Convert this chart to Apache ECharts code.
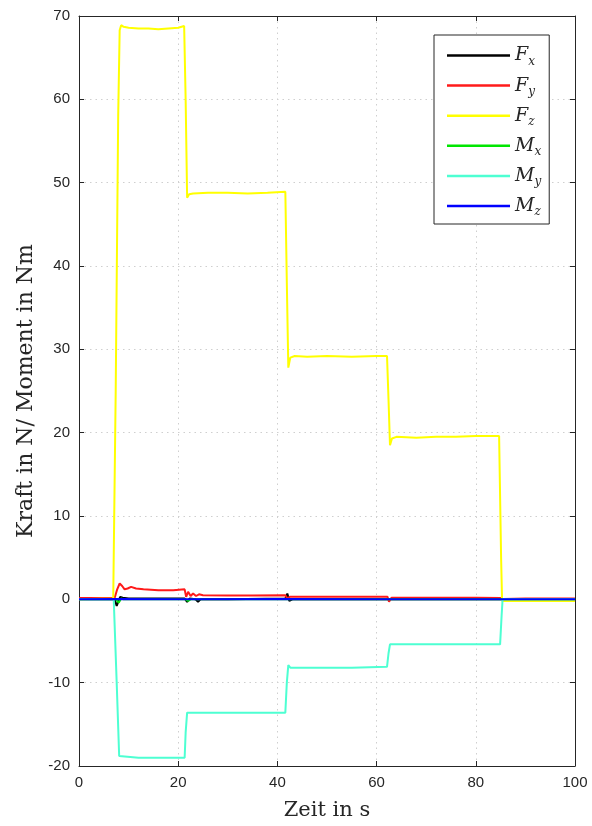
<!DOCTYPE html>
<html>
<head>
<meta charset="utf-8">
<script src="https://cdn.jsdelivr.net/npm/echarts@6/dist/echarts.min.js"></script>
<style>
html,body{margin:0;padding:0;background:#fff;}
#chart{width:592px;height:826px;}
</style>
</head>
<body>
<div id="chart"></div>
<script>
// ---- data (time in s, value in N / Nm) ----
var seriesNames = ['Fx', 'Fy', 'Fz', 'Mx', 'My', 'Mz'];
var xTicks = [0, 20, 40, 60, 80, 100];
var yTicks = [-20, -10, 0, 10, 20, 30, 40, 50, 60, 70];

var fxT = [0, 7.2, 7.6, 7.9, 8.3, 8.8, 10, 15, 21.3, 21.8, 22.3, 23.5, 24, 24.5, 30, 41.6, 42.0, 42.4, 43, 50, 62.2, 62.6, 63, 85, 100];
var fxV = [0.0, 0.0, -0.8, -0.3, 0.3, 0.2, 0.1, 0.1, 0.1, -0.3, 0.1, 0.0, -0.3, 0.0, 0.0, 0.1, 0.7, -0.2, 0.0, 0.0, 0.0, -0.2, 0.0, 0.0, 0.0];

var fyT = [0, 7.2, 7.7, 8.2, 8.7, 9.2, 9.8, 10.5, 11.5, 13, 16, 19, 21.3, 21.6, 22.0, 22.5, 23.0, 23.6, 24.2, 25, 30, 35, 41.6, 42.0, 42.5, 45, 50, 55, 62.2, 62.5, 63, 70, 80, 85, 85.5, 90, 100];
var fyV = [0.15, 0.2, 1.2, 1.9, 1.6, 1.2, 1.3, 1.5, 1.3, 1.2, 1.1, 1.1, 1.2, 0.3, 0.9, 0.4, 0.7, 0.4, 0.6, 0.5, 0.45, 0.45, 0.5, 0.1, 0.3, 0.3, 0.3, 0.3, 0.3, -0.3, 0.2, 0.2, 0.2, 0.15, 0.05, 0.1, 0.1];

var fzT = [0, 6.9, 7.4, 7.9, 8.2, 8.5, 9, 10, 12, 14, 16, 18, 20, 21.2, 21.5, 21.8, 22.2, 23, 26, 30, 34, 38, 41.6, 41.9, 42.2, 42.6, 43.5, 46, 50, 55, 60, 62.1, 62.4, 62.7, 63.1, 64, 68, 72, 76, 80, 84.7, 85.1, 85.3, 90, 95, 100];
var fzV = [0.0, 0.1, 25, 58, 68.3, 68.9, 68.7, 68.6, 68.5, 68.5, 68.4, 68.5, 68.6, 68.8, 60, 48.2, 48.6, 48.7, 48.8, 48.8, 48.7, 48.8, 48.9, 38, 27.8, 29.0, 29.2, 29.1, 29.2, 29.1, 29.2, 29.2, 24, 18.5, 19.3, 19.5, 19.4, 19.5, 19.5, 19.6, 19.6, 5, -0.2, -0.2, -0.2, -0.2];

var mxT = [0, 7.5, 8, 8.5, 9, 21.5, 22, 22.5, 42, 42.3, 42.7, 100];
var mxV = [0, 0, -0.4, 0.1, 0, 0, -0.2, 0, 0, -0.2, 0, 0];

var myT = [0, 7.0, 7.6, 8.1, 8.5, 12, 16, 21.3, 21.5, 21.8, 25, 30, 35, 41.6, 41.9, 42.2, 42.6, 45, 50, 55, 62.1, 62.4, 62.7, 65, 70, 75, 80, 84.9, 85.2, 85.4, 90, 100];
var myV = [0, 0, -10, -18.8, -19.0, -19.0, -19.0, -19.0, -16, -13.6, -13.6, -13.6, -13.6, -13.6, -10, -7.9, -8.2, -8.2, -8.2, -8.2, -8.1, -6.5, -5.4, -5.4, -5.4, -5.4, -5.4, -5.4, -2, 0, 0, 0];

var mzT = [0, 8, 20, 42, 62, 85, 100];
var mzV = [0, 0.05, 0.0, 0.05, 0.0, 0.0, 0.0];

var colors = ['#000000', '#ff1a1a', '#ffff00', '#00e600', '#4dffd2', '#0000ff'];

function zip(t, v) { var out = []; for (var i = 0; i < t.length; i++) out.push([t[i], v[i]]); return out; }
var allData = [zip(fxT, fxV), zip(fyT, fyV), zip(fzT, fzV), zip(mxT, mxV), zip(myT, myV), zip(mzT, mzV)];

var axisCol = '#262626';
var tickFont = 'Liberation Sans, Arial, sans-serif';
var serif = 'DejaVu Serif, Liberation Serif, serif';
var gridLine = { type: [1.5, 4], color: '#cfcfcf', width: 1 };

function mkX(pos, show) {
  return {
    type: 'value', min: 0, max: 100, interval: 20, position: pos,
    axisLine: { show: true, onZero: false, lineStyle: { color: axisCol, width: 1 } },
    axisTick: { show: true, inside: true, length: 5, lineStyle: { color: axisCol } },
    axisLabel: { show: show, color: axisCol, fontSize: 15, fontFamily: tickFont, margin: 9 },
    splitLine: { show: show, lineStyle: gridLine }
  };
}
function mkY(pos, show) {
  return {
    type: 'value', min: -20, max: 70, interval: 10, position: pos,
    axisLine: { show: true, onZero: false, lineStyle: { color: axisCol, width: 1 } },
    axisTick: { show: true, inside: true, length: 5, lineStyle: { color: axisCol } },
    axisLabel: { show: show, color: axisCol, fontSize: 15, fontFamily: tickFont, margin: 9 },
    splitLine: { show: show, lineStyle: gridLine }
  };
}

var x0 = mkX('bottom', true);
x0.name = 'Zeit in s'; x0.nameLocation = 'middle'; x0.nameGap = 34;
x0.nameTextStyle = { fontFamily: serif, fontSize: 21, color: axisCol };
var y0 = mkY('left', true);
y0.name = 'Kraft in N/ Moment in Nm'; y0.nameLocation = 'middle'; y0.nameGap = 42;
y0.nameTextStyle = { fontFamily: serif, fontSize: 22, color: axisCol };

var series = seriesNames.map(function (n, i) {
  return {
    name: n, type: 'line', data: allData[i], showSymbol: false, symbol: 'none',
    xAxisIndex: 0, yAxisIndex: 0, z: 2 + i,
    lineStyle: { color: colors[i], width: 2 }, itemStyle: { color: colors[i] }
  };
});

var chart = echarts.init(document.getElementById('chart'), null, { renderer: 'canvas' });
chart.setOption({
  animation: false,
  backgroundColor: '#ffffff',
  grid: { left: 79, right: 17, top: 16, bottom: 58, containLabel: false },
  xAxis: [x0, mkX('top', false)],
  yAxis: [y0, mkY('right', false)],
  legend: {
    orient: 'vertical', left: 434, top: 35,
    padding: [11, 8, 6, 13], itemGap: 8.6,
    itemWidth: 63, itemHeight: 2.5, icon: 'rect',
    backgroundColor: '#ffffff', borderColor: axisCol, borderWidth: 1,
    data: seriesNames,
    formatter: function (name) { return '{m|' + name.charAt(0) + '}{s|' + name.charAt(1) + '}'; },
    textStyle: {
      rich: {
        m: { fontFamily: serif, fontStyle: 'italic', fontSize: 19, lineHeight: 24, color: axisCol },
        s: { fontFamily: serif, fontStyle: 'italic', fontSize: 12, lineHeight: 10, verticalAlign: 'bottom', color: axisCol }
      }
    }
  },
  series: series
});
</script>
</body>
</html>
